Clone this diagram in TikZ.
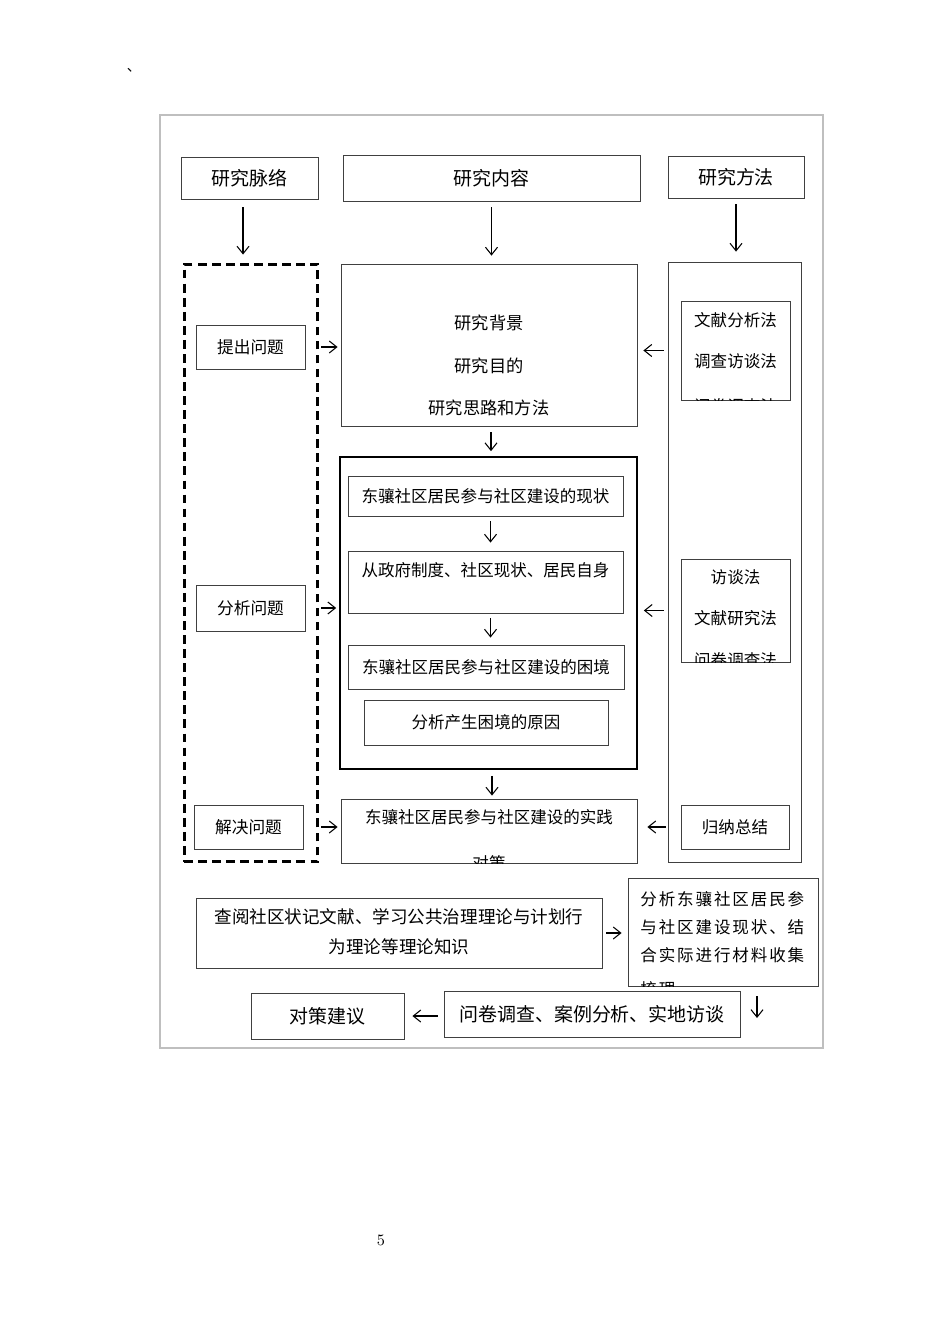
\documentclass[tikz,border=0pt]{standalone}
\usepackage{fontspec}
\newfontfamily\cjk{Noto Sans CJK SC}
\newfontfamily\cjkls{Noto Sans CJK SC}[LetterSpace=11.5]
\usetikzlibrary{arrows.meta}
\tikzset{
  px/.style={x={(0.02cm,0cm)}, y={(0cm,-0.02cm)}},
  box/.style={draw=black!75, line width=0.5pt, inner sep=0pt},
  bbox/.style={draw=black, line width=1pt, inner sep=0pt},
  dbox/.style={draw=black, line width=1.7pt, dash pattern=on 5pt off 3pt, inner sep=0pt},
  pageframe/.style={draw=black!25, line width=0.6pt},
  txt/.style={font=\cjk\fontsize{9.4}{11}\selectfont, inner sep=0pt},
  htxt/.style={font=\cjk\fontsize{10.8}{13}\selectfont},
  ltxt/.style={font=\cjk\fontsize{9.5}{11}\selectfont},
  arr/.style={black, line width=0.6pt, -{Straight Barb[length=1.5mm,width=2.4mm]}},
}
\begin{document}
\begin{tikzpicture}[px]
  \useasboundingbox (0,0) rectangle (950,1344);
  \node[font=\cjk\fontsize{8}{8}\selectfont, inner sep=0pt] (tick) at (134,70) {、};
  \draw[pageframe] (160,115) rectangle (823,1048);

  % --- headers ---
  \node[box, htxt, minimum width=2.74cm, minimum height=0.84cm] (hCtx) at (249.5,178) {研究脉络};
  \node[box, htxt, minimum width=5.94cm, minimum height=0.92cm] (hCon) at (491.5,178) {研究内容};
  \node[box, htxt, minimum width=2.72cm, minimum height=0.84cm] (hMet) at (736,177) {研究方法};

  % --- left column (dashed) ---
  \node[dbox, minimum width=2.68cm, minimum height=11.96cm] (dash) at (251,563) {};
  \node[box, ltxt, minimum width=2.18cm, minimum height=0.88cm] (qa) at (250.5,347) {提出问题};
  \node[box, ltxt, minimum width=2.18cm, minimum height=0.92cm] (qb) at (250.5,608) {分析问题};
  \node[box, ltxt, minimum width=2.18cm, minimum height=0.88cm] (qc) at (248.5,827) {解决问题};

  % --- middle column ---
  \node[box, minimum width=5.92cm, minimum height=3.24cm] (bg) at (489,345) {};
  \foreach \t/\y [count=\i] in {研究背景/323, 研究目的/366, 研究思路和方法/408}
    \node[txt, font=\cjk\fontsize{9.8}{11}\selectfont] (bg-\i) at (489,\y) {\t};

  \node[bbox, minimum width=5.94cm, minimum height=6.24cm] (big) at (488.5,613) {};
  \node[box, txt, minimum width=5.5cm, minimum height=0.8cm] (in1) at (485.5,496) {东骧社区居民参与社区建设的现状};
  \node[box, minimum width=5.5cm, minimum height=1.24cm] (in2) at (485.5,582) {};
  \node[txt] (in2-t) at (485.5,570) {从政府制度、社区现状、居民自身};
  \node[box, txt, minimum width=5.52cm, minimum height=0.88cm] (in3) at (486,667) {东骧社区居民参与社区建设的困境};
  \node[box, txt, minimum width=4.88cm, minimum height=0.9cm] (in4) at (486,722.5) {分析产生困境的原因};

  \node[box, minimum width=5.92cm, minimum height=1.28cm] (prac) at (489,831) {};
  \begin{scope}
    \clip (prac.south west) rectangle (prac.north east);
    \foreach \t/\y [count=\i] in {东骧社区居民参与社区建设的实践/817, 对策/863}
      \node[txt] (prac-\i) at (489,\y) {\t};
  \end{scope}

  % --- right column ---
  \node[box, minimum width=2.66cm, minimum height=12cm] (rbox) at (734.5,562) {};
  \node[box, minimum width=2.18cm, minimum height=1.98cm] (mA) at (735.5,350.5) {};
  \begin{scope}
    \clip (mA.south west) rectangle (mA.north east);
    \foreach \t/\y [count=\i] in {文献分析法/320, 调查访谈法/361, 问卷调查法/406}
      \node[txt] (mA-\i) at (735.5,\y) {\t};
  \end{scope}
  \node[box, minimum width=2.18cm, minimum height=2.06cm] (mB) at (735.5,610.5) {};
  \begin{scope}
    \clip (mB.south west) rectangle (mB.north east);
    \foreach \t/\y [count=\i] in {访谈法/577, 文献研究法/618, 问卷调查法/660}
      \node[txt] (mB-\i) at (735.5,\y) {\t};
  \end{scope}
  \node[box, txt, minimum width=2.16cm, minimum height=0.88cm] (mC) at (735,827) {归纳总结};

  % --- bottom rows ---
  \node[box, minimum width=8.12cm, minimum height=1.4cm] (lit) at (399,933) {};
  \foreach \t/\y [count=\i] in {查阅社区状记文献、学习公共治理理论与计划行/917, 为理论等理论知识/947}
    \node[txt, font=\cjk\fontsize{10}{11}\selectfont] (lit-\i) at (399,\y) {\t};
  \node[box, minimum width=3.8cm, minimum height=2.16cm] (ana) at (723,932) {};
  \begin{scope}
    \clip (ana.south west) rectangle (ana.north east);
    \foreach \t/\y [count=\i] in {分析东骧社区居民参/899, 与社区建设现状、结/927, 合实际进行材料收集/955, 梳理/989}
      \node[inner sep=0pt, anchor=west, font=\cjkls\fontsize{9.4}{11}\selectfont] (ana-\i) at (640,\y) {\t};
  \end{scope}
  \node[box, htxt, minimum width=5.92cm, minimum height=0.92cm] (survey) at (592,1014) {问卷调查、案例分析、实地访谈};
  \node[box, htxt, minimum width=3.06cm, minimum height=0.92cm] (sugg) at (327.5,1016) {对策建议};
  \coordinate (dn) at (757,1018);

  \node[font=\fontsize{9}{11}\selectfont] (pg) at (381,1240) {5};

  % --- vertical arrows ---
  \draw[arr, shorten <=0.16cm, shorten >=0.16cm] ([xshift=-0.13cm]hCtx.south) -- ([xshift=-0.13cm]hCtx.south |- dash.north);
  \draw[arr, shorten <=0.12cm, shorten >=0.16cm] (hCon.south) -- (hCon.south |- bg.north);
  \draw[arr, shorten <=0.12cm, shorten >=0.2cm] (hMet.south) -- (hMet.south |- rbox.north);
  \draw[arr, shorten <=0.12cm, shorten >=0.1cm] ([xshift=0.04cm]bg.south) -- ([xshift=0.04cm]bg.south |- big.north);
  \draw[arr, shorten <=0.1cm, shorten >=0.16cm] ([xshift=0.1cm]in1.south) -- ([xshift=0.1cm]in2.north);
  \draw[arr, shorten <=0.1cm, shorten >=0.14cm] ([xshift=0.1cm]in2.south) -- ([xshift=0.1cm]in2.south |- in3.north);
  \draw[arr, shorten <=0.12cm, shorten >=0.06cm] ([xshift=0.07cm]big.south) -- ([xshift=0.07cm]big.south |- prac.north);
  \draw[arr, shorten <=0.2cm] (ana.south -| dn) -- (dn);

  % --- horizontal arrows ---
  \draw[arr, shorten <=0.04cm, shorten >=0.06cm] (dash.east |- qa) -- (bg.west |- qa);
  \draw[arr, shorten <=0.04cm, shorten >=0.06cm] (dash.east |- qb) -- (big.west |- qb);
  \draw[arr, shorten <=0.04cm, shorten >=0.06cm] (dash.east |- qc) -- (prac.west |- qc);
  \draw[arr, shorten <=0.08cm, shorten >=0.12cm] (rbox.west |- mA) -- (bg.east |- mA);
  \draw[arr, shorten <=0.08cm, shorten >=0.12cm] (rbox.west |- mB) -- (big.east |- mB);
  \draw[arr, shorten <=0.04cm, shorten >=0.2cm] (rbox.west |- mC) -- (prac.east |- mC);
  \draw[arr, shorten <=0.08cm, shorten >=0.12cm] (lit.east) -- (ana.west |- lit.east);
  \draw[arr, shorten <=0.12cm, shorten >=0.16cm] (survey.west |- sugg) -- (sugg.east);
\end{tikzpicture}
\end{document}
